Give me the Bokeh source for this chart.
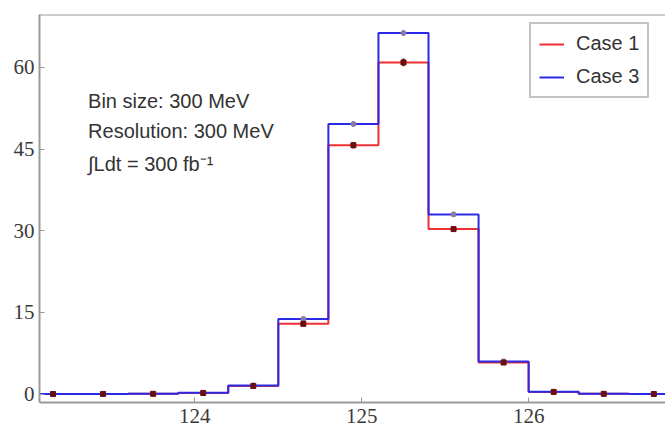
from bokeh.plotting import figure
from bokeh.models import Label, Span, FixedTicker, Legend
from bokeh.embed import file_html
from bokeh.resources import INLINE

# ---- data ----
bin_edges = [123.0, 123.3, 123.6, 123.9, 124.2, 124.5, 124.8, 125.1, 125.4, 125.7, 126.0, 126.3, 126.6, 126.9]
case1 = [0.02, 0.03, 0.05, 0.2, 1.5, 12.9, 45.7, 60.9, 30.3, 5.8, 0.4, 0.05, 0.02]
case3 = [0.02, 0.03, 0.05, 0.25, 1.6, 13.8, 49.6, 66.3, 33.0, 6.0, 0.45, 0.05, 0.02]
case1_err = [0.05, 0.05, 0.05, 0.1, 0.2, 0.4, 0.6, 0.7, 0.5, 0.3, 0.1, 0.05, 0.05]
case3_err = [0.05, 0.05, 0.05, 0.1, 0.2, 0.3, 0.4, 0.4, 0.3, 0.2, 0.1, 0.05, 0.05]
x_ticks = [124, 125, 126]
y_ticks = [0, 15, 30, 45, 60]
annotations = ["Bin size: 300 MeV", "Resolution: 300 MeV", "\u222bLdt = 300 fb\u207b\u00b9"]

centers = [(a + b) / 2 for a, b in zip(bin_edges[:-1], bin_edges[1:])]

W, H = 665, 429
p = figure(width=W, height=H, x_range=(123.069, 126.82), y_range=(-1.54, 69.7),
           output_backend="svg", toolbar_location=None,
           min_border_left=39, min_border_right=0, min_border_top=14, min_border_bottom=27)
p.background_fill_color = "white"
p.border_fill_color = "white"
p.outline_line_color = None
p.xgrid.visible = False
p.ygrid.visible = False

axis_col = "#999999"
for ax in (p.xaxis, p.yaxis):
    ax.axis_line_color = axis_col
    ax.axis_line_width = 2
    ax.major_tick_line_color = axis_col
    ax.major_tick_line_width = 1
    ax.major_tick_in = 5
    ax.major_tick_out = 0
    ax.minor_tick_line_color = None
    ax.major_label_text_font = "Liberation Serif"
    ax.major_label_text_font_size = "21px"
    ax.major_label_text_color = "#3a3a3a"
p.xaxis.ticker = FixedTicker(ticks=x_ticks)
p.yaxis.ticker = FixedTicker(ticks=y_ticks)
p.xaxis.major_label_standoff = 6
p.yaxis.major_label_standoff = 5

top = Span(location=69.7, dimension="width", line_color=axis_col, line_width=2)
p.add_layout(top)

red = "#f03030"
blue = "#2a2ae6"

xs = bin_edges
r1 = p.step(xs, case1 + [case1[-1]], mode="after", line_color=red, line_width=2)
r3 = p.step(xs, case3 + [case3[-1]], mode="after", line_color=blue, line_width=2)

lo1 = [v - e for v, e in zip(case1, case1_err)]
hi1 = [v + e for v, e in zip(case1, case1_err)]
lo3 = [v - e for v, e in zip(case3, case3_err)]
hi3 = [v + e for v, e in zip(case3, case3_err)]
p.segment(centers, lo3, centers, hi3, line_color="#8a7aa8", line_width=2)
p.scatter(centers, case3, size=5, color="#8a7aa8")
p.segment(centers, lo1, centers, hi1, line_color="#6a0f0f", line_width=2)
p.scatter(centers, case1, size=5, marker="square", color="#6a0f0f")

legend = Legend(items=[("Case 1", [r1]), ("Case 3", [r3])], location=(490, 304))
legend.label_text_font = "Liberation Sans"
legend.label_text_font_size = "20px"
legend.label_text_color = "#333333"
legend.border_line_color = "#888888"
legend.border_line_width = 2
legend.glyph_width = 25
legend.label_standoff = 12
legend.padding = 8
legend.spacing = 10
legend.background_fill_alpha = 1
p.add_layout(legend)

ann_y = [53.9, 48.4, 42.3]
for txt, yy in zip(annotations, ann_y):
    p.add_layout(Label(x=123.36, y=yy, text=txt, text_font="Liberation Sans",
                       text_font_size="20px", text_color="#333333",
                       text_baseline="middle"))

open("out.html", "w").write(file_html(p, INLINE))
